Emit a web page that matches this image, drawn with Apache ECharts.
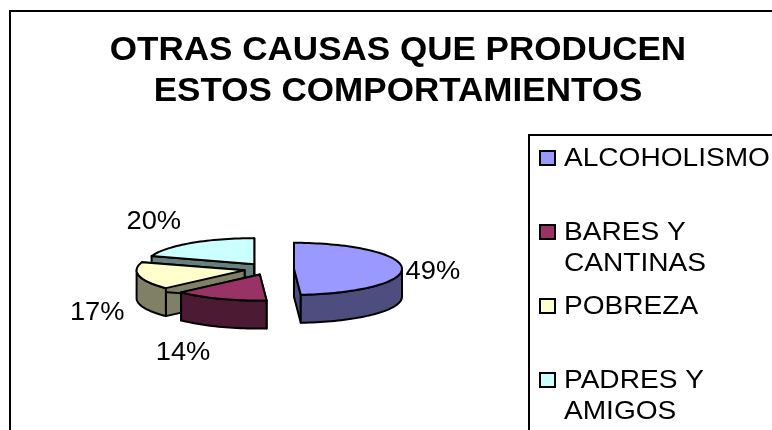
<!DOCTYPE html>
<html><head><meta charset="utf-8">
<style>html,body{margin:0;padding:0;background:#fff}#c{width:772px;height:430px}</style>
<script src="https://cdn.jsdelivr.net/npm/echarts@6/dist/echarts.min.js"></script>
</head><body><div id="c"></div>
<script>
const titleText = 'OTRAS CAUSAS QUE PRODUCEN\nESTOS COMPORTAMIENTOS';
const categories = ['ALCOHOLISMO', 'BARES Y\nCANTINAS', 'POBREZA', 'PADRES Y\nAMIGOS'];
const shares = [49, 14, 17, 20];
const topColors = ['#9999FF', '#993366', '#FFFFCC', '#CCFFFF'];
const wallColors = ['#4D4D80', '#4D1A33', '#808066', '#668080'];
const labelNudge = [[31, 4], [-37, 54], [-42, 37], [-37, -21]];

const FONT = '"Liberation Sans", Arial, sans-serif';
const P = { cx: 269, cy: 269, rx: 108, ry: 26, depth: 28, explode: 25 };
const total = shares.reduce((a, b) => a + b, 0);
const rad = d => d * Math.PI / 180;
const LINE = { stroke: '#000', lineWidth: 2, lineJoin: 'round' };

function renderSlice(params, api) {
  const i = params.dataIndex;
  const v = api.value(0);
  let before = 0;
  for (let k = 0; k < i; k++) before += shares[k];
  const a0 = before / total * 360, a1 = (before + v) / total * 360, mid = (a0 + a1) / 2;
  const ox = P.cx + P.explode * Math.sin(rad(mid));
  const oy = P.cy - P.explode * (P.ry / P.rx) * Math.cos(rad(mid));
  const pt = a => [ox + P.rx * Math.sin(rad(a)), oy - P.ry * Math.cos(rad(a))];
  const down = p => [p[0], p[1] + P.depth];
  const base = (shares.length - i) * 10;
  const kids = [];
  const poly = (points, fill, z) => kids.push({ type: 'polygon', z2: base + z, shape: { points }, style: Object.assign({ fill }, LINE) });
  [a0, a1].forEach((a, k) => {
    const e = pt(a);
    poly([[ox, oy], e, down(e), [ox, oy + P.depth]], wallColors[i], k);
  });
  const f0 = Math.max(a0, 90), f1 = Math.min(a1, 270);
  if (f1 > f0) {
    const upper = [];
    for (let a = f0; a < f1; a += 2) upper.push(pt(a));
    upper.push(pt(f1));
    poly(upper.concat(upper.slice().reverse().map(down)), wallColors[i], 2);
  }
  const topFace = [[ox, oy]];
  for (let a = a0; a < a1; a += 2) topFace.push(pt(a));
  topFace.push(pt(a1));
  poly(topFace, topColors[i], 3);
  const edge = pt(mid);
  kids.push({
    type: 'text', z2: 100,
    x: edge[0] + labelNudge[i][0], y: edge[1] + labelNudge[i][1], scaleX: 1.05,
    style: { text: Math.round(v / total * 100) + '%', font: '26px ' + FONT, fill: '#000', align: 'center', verticalAlign: 'middle' }
  });
  return { type: 'group', children: kids };
}

const legendItems = [];
categories.forEach((name, i) => {
  const y = 158 + 74 * i;
  legendItems.push({ type: 'rect', shape: { x: 540, y: y - 7, width: 15, height: 14 }, style: { fill: topColors[i], stroke: '#000', lineWidth: 2 } });
  legendItems.push({ type: 'text', x: 564, y: y - 15, scaleX: 1.08, style: { text: name, font: '26px ' + FONT, lineHeight: 31, fill: '#000', align: 'left', verticalAlign: 'top' } });
});

const chart = echarts.init(document.getElementById('c'), null, { renderer: 'canvas' });
chart.setOption({
  animation: false,
  backgroundColor: '#fff',
  graphic: [
    { type: 'rect', shape: { x: 10, y: 11, width: 800, height: 450 }, style: { fill: 'none', stroke: '#000', lineWidth: 2 } },
    { type: 'rect', shape: { x: 529, y: 135, width: 300, height: 350 }, style: { fill: 'none', stroke: '#000', lineWidth: 2 } },
    { type: 'text', x: 398, y: 71, scaleX: 1.062, style: { text: titleText, font: 'bold 33px ' + FONT, lineHeight: 41, fill: '#000', align: 'center', verticalAlign: 'middle' } }
  ].concat(legendItems),
  series: [{ type: 'custom', coordinateSystem: 'none', silent: true, renderItem: renderSlice, data: shares.map((v, i) => ({ name: categories[i], value: [v] })) }]
});
</script></body></html>
